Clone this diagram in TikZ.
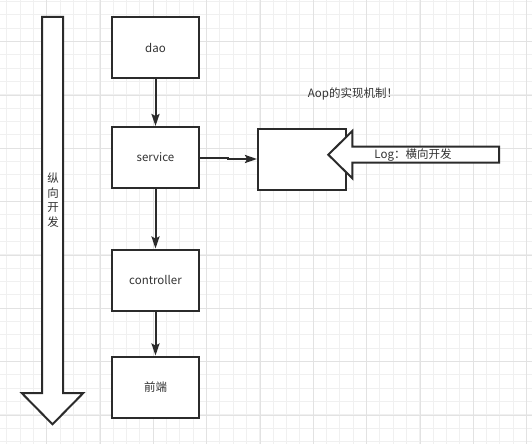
\documentclass[tikz,border=0pt]{standalone}
\usepackage{fontspec}
\setmainfont{Noto Sans CJK SC}
\usetikzlibrary{arrows.meta}
\definecolor{ink}{HTML}{2B2B2B}
\definecolor{txt}{HTML}{333333}
\definecolor{gthin}{HTML}{F0F0F0}
\definecolor{gthick}{HTML}{E2E2E2}
\begin{document}
\begin{tikzpicture}[x=1pt,y=-1pt,
  box/.style={draw=ink,line width=2pt,fill=white,minimum width=87pt,minimum height=61pt,inner sep=0pt,text=txt,font=\fontsize{11.5}{13}\selectfont},
  conn/.style={draw=ink,line width=2pt,-{Stealth[length=12pt,width=8pt,inset=2pt]}},
  bigarrow/.style={draw=ink,line width=2pt,fill=white,line join=miter},
  lbl/.style={text=txt,inner sep=0pt,font=\fontsize{11.5}{13}\selectfont},
  gridthin/.style={gthin,line width=1pt},
  gridthick/.style={gthick,line width=1pt}]
\useasboundingbox[fill=white] (0,0) rectangle (532,444);
% grid
\foreach \i in {0,...,39} {\draw[gridthin] ({6.667+13.333*\i},0) -- ++(0,444);}
\foreach \i in {0,...,33} {\draw[gridthin] (0,{1.667+13.333*\i}) -- ++(532,0);}
\foreach \i in {0,...,9} {\draw[gridthick] ({46.667+53.333*\i},0) -- ++(0,444);}
\foreach \i in {0,...,8} {\draw[gridthick] (0,{41.667+53.333*\i}) -- ++(532,0);}
% vertical development arrow
\draw[bigarrow] (42,17) -- (63,17) -- (63,393) -- (83.3,393) -- (52.5,424.3) -- (21.7,393) -- (42,393) -- cycle;
\node[lbl,align=center,font=\fontsize{11.5}{14.5}\selectfont] (vlabel) at (53,200) {纵\\向\\开\\发};
% boxes
\node[box] (dao) at (155.5,47.5) {dao};
\node[box] (service) at (155.5,157.5) {service};
\node[box] (controller) at (155.5,280) {controller};
\node[box] (front) at (155.5,387) {前端};
\node[box,minimum width=88pt] (aop) at (302,159) {};
% connectors
\draw[conn] (dao) -- (service);
\draw[conn] (service) -- (controller);
\draw[conn] (controller) -- (front);
\draw[conn] (service.east) -- (228,157.5) |- (aop.west);
% horizontal log arrow
\draw[bigarrow] (499,146.7) -- (352.3,146.7) -- (352.3,131) -- (328.3,154.7) -- (352.3,178.3) -- (352.3,162.7) -- (499,162.7) -- cycle;
\node[lbl] (log) at (413,155) {Log：横向开发};
\node[lbl] (title) at (353,94) {Aop的实现机制！};
\end{tikzpicture}
\end{document}
